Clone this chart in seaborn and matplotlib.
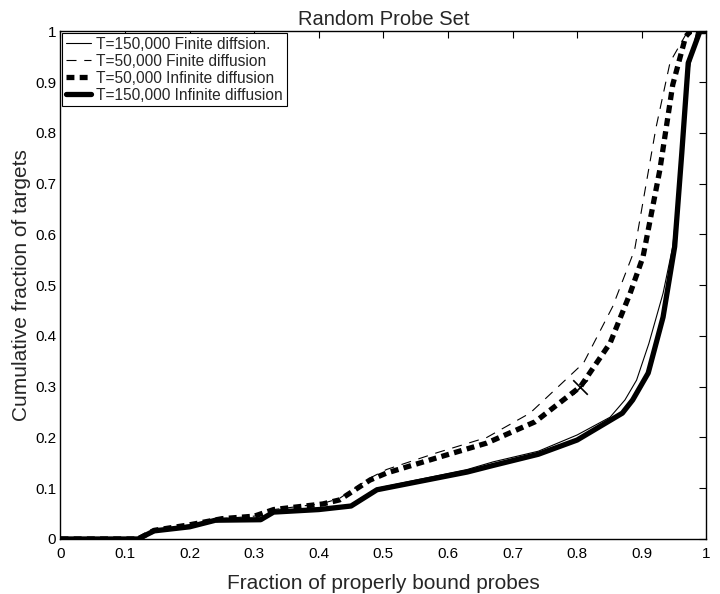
import matplotlib
matplotlib.use("Agg")
import matplotlib.pyplot as plt
import seaborn as sns
import pandas as pd

# ---- data ----
x_t150_finite = [0, 0.12, 0.145, 0.2, 0.24, 0.31, 0.33, 0.40, 0.45, 0.49, 0.55, 0.63, 0.67,
                 0.74, 0.80, 0.851, 0.874, 0.892, 0.911, 0.933, 0.948, 0.958, 0.965, 0.974, 0.985, 1.0]
y_t150_finite = [0, 0, 0.016, 0.025, 0.037, 0.040, 0.053, 0.058, 0.068, 0.100, 0.116, 0.137, 0.152,
                 0.173, 0.205, 0.240, 0.274, 0.313, 0.385, 0.484, 0.576, 0.700, 0.800, 0.930, 1.0, 1.0]

x_t50_finite = [0, 0.12, 0.145, 0.2, 0.25, 0.3, 0.33, 0.406, 0.432, 0.479, 0.505, 0.583, 0.66,
                0.727, 0.81, 0.855, 0.889, 0.922, 0.944, 0.971, 1.0]
y_t50_finite = [0, 0, 0.017, 0.028, 0.040, 0.045, 0.058, 0.070, 0.080, 0.120, 0.137, 0.170, 0.200,
                0.248, 0.347, 0.458, 0.570, 0.810, 0.940, 1.0, 1.0]

x_t50_infinite = [0, 0.12, 0.145, 0.2, 0.25, 0.3, 0.33, 0.406, 0.432, 0.479, 0.505, 0.583, 0.66,
                  0.735, 0.805, 0.851, 0.882, 0.902, 0.928, 0.948, 0.968, 0.975, 1.0]
y_t50_infinite = [0, 0, 0.017, 0.028, 0.040, 0.045, 0.058, 0.069, 0.077, 0.116, 0.130, 0.160, 0.189,
                  0.231, 0.300, 0.386, 0.484, 0.556, 0.727, 0.895, 0.990, 1.0, 1.0]

x_t150_infinite = [0, 0.12, 0.145, 0.2, 0.24, 0.31, 0.33, 0.40, 0.45, 0.49, 0.55, 0.63, 0.67,
                   0.74, 0.80, 0.87, 0.886, 0.91, 0.933, 0.951, 0.962, 0.972, 0.99, 1.0]
y_t150_infinite = [0, 0, 0.016, 0.024, 0.037, 0.038, 0.053, 0.058, 0.065, 0.097, 0.112, 0.132, 0.145,
                   0.167, 0.195, 0.248, 0.274, 0.327, 0.437, 0.576, 0.760, 0.938, 1.0, 1.0]

marker_x = [0.805]
marker_y = [0.30]

labels = ["T=150,000 Finite diffsion.", "T=50,000 Finite diffusion",
          "T=50,000 Infinite diffusion", "T=150,000 Infinite diffusion"]
ticks = [0, 0.1, 0.2, 0.3, 0.4, 0.5, 0.6, 0.7, 0.8, 0.9, 1]
tick_labels = ["0", "0.1", "0.2", "0.3", "0.4", "0.5", "0.6", "0.7", "0.8", "0.9", "1"]

# ---- plot ----
sns.set_style("white")
plt.rcParams["font.family"] = ["Liberation Sans", "DejaVu Sans"]

fig = plt.figure(figsize=(7.2, 5.94), dpi=100)
ax = fig.add_axes([0.084, 0.0926, 0.897, 0.8544])

series = [
    (x_t150_finite, y_t150_finite, 0.8, "-"),
    (x_t50_finite, y_t50_finite, 0.8, (0, (9, 7))),
    (x_t50_infinite, y_t50_infinite, 3.8, (0, (1.5, 1.0))),
    (x_t150_infinite, y_t150_infinite, 3.8, "-"),
]
for (xs, ys, lw, ls), lab in zip(series, labels):
    df = pd.DataFrame({"x": xs, "y": ys})
    sns.lineplot(data=df, x="x", y="y", ax=ax, color="black", linewidth=lw,
                 linestyle=ls, label=lab, estimator=None, sort=False)

sns.scatterplot(x=marker_x, y=marker_y, ax=ax, marker="x", s=110, color="black",
                linewidth=1.2, legend=False, zorder=5)

ax.set_xlim(0, 1)
ax.set_ylim(0, 1)
ax.set_xticks(ticks)
ax.set_xticklabels(tick_labels)
ax.set_yticks(ticks)
ax.set_yticklabels(tick_labels)
ax.tick_params(direction="in", length=5, width=0.8, top=True, right=True,
               labelsize=11, colors="black")
ax.tick_params(axis="x", pad=6)
ax.tick_params(axis="y", pad=3)
for s in ax.spines.values():
    s.set_color("black")
    s.set_linewidth(1.0)

ax.set_title("Random Probe Set", fontsize=14.5, pad=5)
ax.set_xlabel("Fraction of properly bound probes", fontsize=15, labelpad=9)
ax.set_ylabel("Cumulative fraction of targets", fontsize=15, labelpad=3)

leg = ax.legend(loc="upper left", fontsize=11.2, frameon=True, fancybox=False,
                framealpha=1, edgecolor="black", borderaxespad=0.1,
                handlelength=1.6, handletextpad=0.35, labelspacing=0.12,
                borderpad=0.25)
leg.get_frame().set_linewidth(0.8)

fig.savefig("out.png", dpi=100)
